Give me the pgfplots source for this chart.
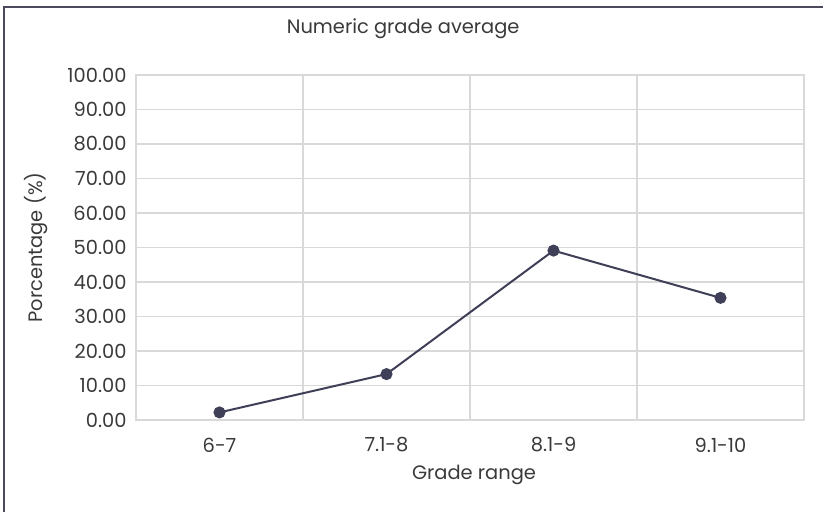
\documentclass[border=0pt]{standalone}
\usepackage{pgfplots}
\pgfplotsset{compat=1.18}
\usepackage{fontspec}
\setmainfont{Poppins}
\definecolor{txt}{HTML}{3A3A3A}
\definecolor{gridc}{HTML}{D9D9D9}
\definecolor{linec}{HTML}{3F3F58}
\definecolor{framec}{HTML}{4B4A5C}
\begin{document}
\begin{tikzpicture}[x=1bp,y=1bp]
\path[use as bounding box, fill=white] (0,0) rectangle (823,512);
\draw[framec, line width=1.5bp] (4,-5) -- (4,505) -- (830,505);
\begin{axis}[
  at={(136bp,92bp)}, anchor=south west,
  scale only axis, width=668bp, height=345bp,
  xmin=-0.5, xmax=3.5, ymin=0, ymax=100,
  xtick={0,1,2,3}, xticklabels={6-7,7.1-8,8.1-9,9.1-10},
  minor xtick={0.5,1.5,2.5}, xminorgrids,
  ytick={0,10,...,100}, ymajorgrids,
  grid style={gridc, line width=1.2bp},
  minor grid style={gridc, line width=1.2bp},
  axis line style={gridc, line width=1.2bp},
  major tick length=0pt, minor tick length=0pt,
  tick label style={font=\fontsize{19.5}{23}\selectfont, text=txt},
  /pgf/number format/assume math mode=true,
  yticklabel={\pgfmathprintnumber[fixed,fixed zerofill,precision=2]{\tick}},
  yticklabel style={anchor=east, xshift=-6bp},
  xticklabel style={anchor=center, yshift=-25bp},
  xlabel={Grade range}, ylabel={Porcentage (\%)},
  label style={font=\fontsize{19.5}{23}\selectfont, text=txt},
  xlabel style={at={(axis description cs:0.506,-0.159)}, anchor=center},
  ylabel style={at={(axis description cs:-0.1497,0.5)}, anchor=center, rotate=0},
  title={Numeric grade average},
  title style={at={(axis description cs:0.4,1.116)}, anchor=center, font=\fontsize{19.5}{23}\selectfont, text=txt},
  clip=false,
]
\addplot[linec, line width=2bp, mark=*, mark size=5bp, mark options={fill=linec, draw=linec}]
  coordinates {(0,2.2) (1,13.3) (2,49.1) (3,35.4)};
\end{axis}
\end{tikzpicture}
\end{document}
